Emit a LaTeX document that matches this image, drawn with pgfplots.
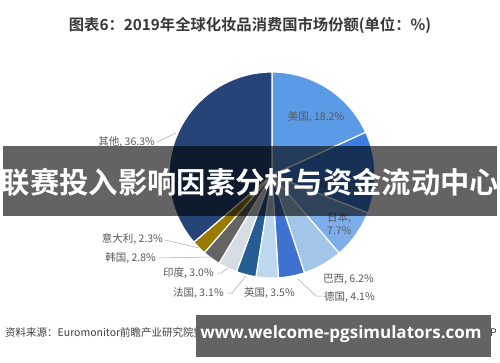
\documentclass[border=0pt]{standalone}
\usepackage{pgfplots}
\pgfplotsset{compat=1.18}
\usepackage{pgfplotstable}
\usepackage{fontspec}
\setmainfont{Noto Sans CJK SC}[BoldFont={Noto Sans CJK SC Bold}]
\newfontfamily\urlfont{Open Sans}[BoldFont={Open Sans Bold}]
\definecolor{cUS}{HTML}{5B9BE6}
\definecolor{cCN}{HTML}{3C7DE0}
\definecolor{cJP}{HTML}{7DAEEB}
\definecolor{cBR}{HTML}{A4C5EA}
\definecolor{cDE}{HTML}{3F72D0}
\definecolor{cUK}{HTML}{BDD7EE}
\definecolor{cFR}{HTML}{245C93}
\definecolor{cIN}{HTML}{D6DCE4}
\definecolor{cKR}{HTML}{646464}
\definecolor{cIT}{HTML}{9A7B00}
\definecolor{cOT}{HTML}{264478}
\definecolor{lbl}{HTML}{595959}
\definecolor{lead}{HTML}{A6A6A6}
\pgfplotstableread{
name value color
美国 18.2 cUS
中国 12.8 cCN
日本 7.7 cJP
巴西 6.2 cBR
德国 4.1 cDE
英国 3.5 cUK
法国 3.1 cFR
印度 3.0 cIN
韩国 2.8 cKR
意大利 2.3 cIT
其他 36.3 cOT
}\sharetable
\gdef\cum{0}
\newcommand\slice[1]{%
  \pgfplotstablegetelem{#1}{value}\of\sharetable\let\val\pgfplotsretval
  \pgfplotstablegetelem{#1}{color}\of\sharetable\let\col\pgfplotsretval
  \pgfmathsetmacro\a{\cum}%
  \pgfmathsetmacro\b{\cum+3.6*\val}%
  \edef\tmp{\noexpand\addplot[fill=\col, draw=white, line width=1.2pt, line join=round, domain=\a:\b, samples=80, variable=\noexpand\t] ({sin(\noexpand\t)},{cos(\noexpand\t)}) -- (axis cs:0,0) -- cycle;}\tmp
  \xdef\cum{\b}}
\begin{document}
\begin{tikzpicture}[x=1pt,y=1pt]
\useasboundingbox (0,0) rectangle (500,362);
\fill[white] (0,0) rectangle (500,362);
\node[font=\bfseries\fontsize{15.3}{17}\selectfont, text=black!78] at (250,337) {图表6：2019年全球化妆品消费国市场份额(单位：\%)};
\begin{axis}[at={(272pt,187pt)}, anchor=center, width=206pt, height=206pt, scale only axis,
  xmin=-1, xmax=1, ymin=-1, ymax=1, hide axis, clip=false]
\slice{0}\slice{1}\slice{2}\slice{3}\slice{4}\slice{5}\slice{6}\slice{7}\slice{8}\slice{9}\slice{10}
\end{axis}
\begin{scope}[font=\fontsize{10.5}{12}\selectfont, text=lbl]
\node at (316,245) {美国, 18.2\%};
\node at (348,176) {中国, 12.8\%};
\node[anchor=west, inner sep=0] at (327,144) {日本,};
\node[anchor=west, inner sep=0] at (327,131) {7.7\%};
\node[anchor=west, inner sep=0] at (323,83) {巴西, 6.2\%};
\node[anchor=west, inner sep=0] at (324,65) {德国, 4.1\%};
\node[anchor=west, inner sep=0] at (244,69) {英国, 3.5\%};
\node[anchor=west, inner sep=0] at (173,69) {法国, 3.1\%};
\node[anchor=west, inner sep=0] at (163,89) {印度, 3.0\%};
\node[anchor=east, inner sep=0] at (156,104) {韩国, 2.8\%};
\node[anchor=east, inner sep=0] at (163,123) {意大利, 2.3\%};
\node[anchor=east, inner sep=0] at (155,220) {其他, 36.3\%};
\end{scope}
\begin{scope}[draw=lead, line width=0.5pt]
\draw (298,83) -- (316,66) -- (322,66);
\draw (227,69) -- (232,69) -- (246,86);
\draw (217,89) -- (221,89) -- (228,94);
\draw (158,104) -- (211,105);
\draw (165,122) -- (199,114);
\draw (157,220) -- (176,229);
\end{scope}
% source line
\node[anchor=west, inner sep=0, font=\fontsize{10.5}{12}\selectfont, text=black!75] at (5,29) {资料来源：Euromonitor前瞻产业研究院整理};
\node[anchor=east, inner sep=0, font=\fontsize{10.5}{12}\selectfont, text=black!75] at (497,29) {@前瞻经济学人APP};
% banner
\fill[black, opacity=0.61] (3,146) rectangle (497,216);
\node[font=\bfseries\fontsize{29.3}{31}\selectfont, text=white] at (250,180) {联赛投入影响因素分析与资金流动中心};
% url box
\fill[black!61] (196,5) rectangle (491,47);
\node[font=\urlfont\bfseries\fontsize{17}{19}\selectfont, text=white] at (341,28) {www.welcome-pgsimulators.com};
\end{tikzpicture}
\end{document}
